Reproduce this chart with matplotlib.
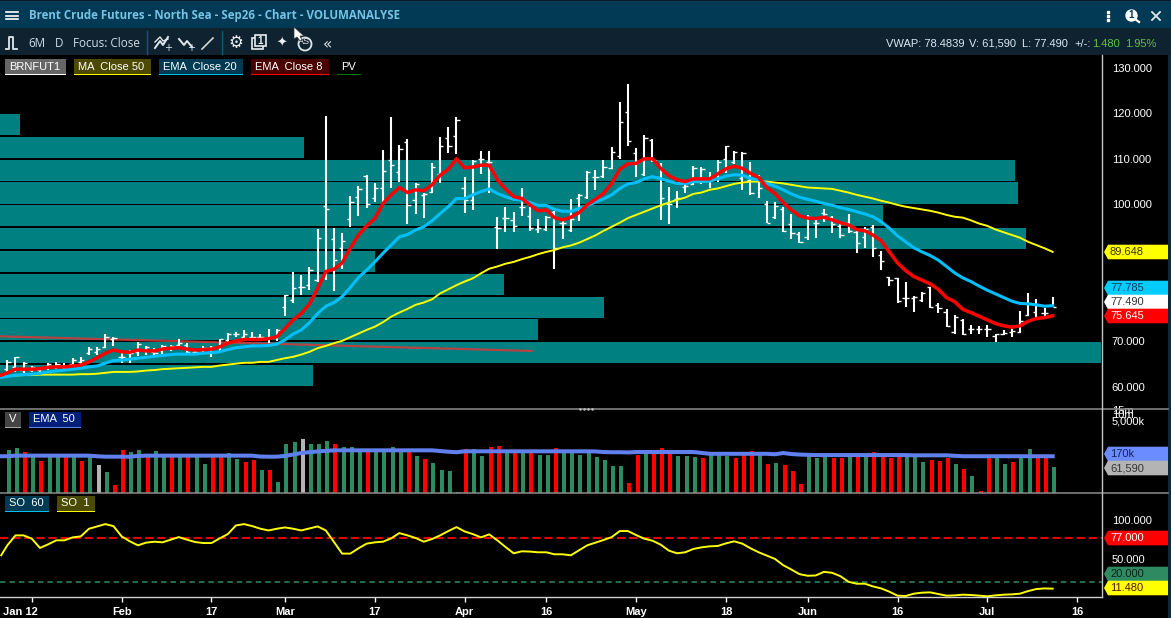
import matplotlib
matplotlib.use("Agg")
import matplotlib.pyplot as plt
from matplotlib.patches import Polygon, Rectangle, Circle
from matplotlib.transforms import ScaledTranslation

plt.rcParams['font.family'] = ['Liberation Sans', 'DejaVu Sans']

W, H = 1171, 618

# ---- price data
highs = [65.8,66.6,65.5,64.6,64.3,65.2,65.4,65.3,66.3,66.5,68.7,68.7,71.7,70.9,67.7,68.2,69.8,69.0,68.6,69.3,
         69.2,70.6,69.7,68.1,69.0,69.0,70.6,71.9,72.1,72.5,72.1,71.7,72.7,72.8,80.2,85.1,84.5,86.2,94.6,119.4,
         94.9,93.7,101.8,104.0,106.4,104.8,111.9,119.1,113.0,114.3,104.8,102.6,109.0,114.7,116.9,119.1,105.9,109.7,111.7,111.7,
         97.2,99.4,98.3,103.7,99.4,96.8,97.5,98.5,96.4,101.2,102.3,107.3,107.5,109.7,112.5,122.4,126.4,112.3,115.2,114.3,
         109.0,103.9,102.9,104.6,108.4,108.1,107.0,109.7,112.8,111.7,111.4,109.4,106.4,100.8,100.6,99.5,98.0,94.0,97.7,96.6,
         98.9,97.5,95.9,98.0,94.5,95.1,95.4,89.9,84.2,83.9,83.0,79.9,80.9,82.0,78.3,77.0,75.7,75.0,73.6,73.4,
         73.6,71.7,72.5,72.6,76.6,80.5,79.3,77.4,79.8]
lows = [63.0,63.3,63.1,63.3,63.3,63.7,63.9,63.9,64.6,64.8,67.0,67.0,68.5,69.0,65.3,65.2,66.8,66.9,67.0,67.0,
        67.9,68.7,67.0,67.0,67.4,66.6,67.9,69.9,70.9,70.6,70.4,70.3,69.6,70.1,75.6,78.3,80.2,81.2,82.9,83.4,
        81.1,85.9,95.1,97.5,99.3,100.6,100.1,103.7,105.0,95.7,97.9,97.1,102.6,104.8,111.3,111.0,98.2,98.8,106.7,102.6,
        90.2,94.0,94.0,97.5,94.2,93.8,94.2,85.9,92.5,94.0,96.4,101.1,103.2,105.7,107.7,110.0,112.9,106.1,106.2,109.4,
        96.6,95.7,99.2,102.4,104.2,104.5,103.7,105.0,106.8,108.9,103.2,102.1,101.3,95.9,96.7,94.0,92.5,91.5,92.2,92.7,
        96.2,93.8,92.6,93.7,89.4,90.4,88.4,85.6,82.2,78.3,77.6,76.5,78.7,77.2,76.3,73.1,71.7,71.4,71.7,71.7,
        70.9,69.9,71.4,70.9,71.9,75.5,75.4,75.5,77.6]
opens = [64.0,64.4,63.7,63.8,63.7,64.3,64.4,64.4,65.0,65.4,67.5,67.7,68.8,70.6,66.6,67.4,67.7,68.2,67.7,68.2,
         68.5,69.2,69.2,67.7,68.2,67.7,68.8,70.3,71.6,71.0,71.0,71.0,70.6,71.0,77.6,79.0,81.8,82.3,83.4,99.7,
         92.4,90.4,96.8,101.7,106.3,101.5,103.5,109.7,107.2,113.7,101.0,102.1,102.8,106.6,114.6,115.1,103.6,101.0,109.9,109.4,
         95.0,97.1,96.6,99.5,97.5,94.6,94.7,98.3,95.9,94.4,101.3,101.7,105.9,106.3,107.9,110.5,120.3,111.2,106.6,114.1,
         106.1,100.2,101.1,103.9,104.5,105.7,105.6,106.4,109.9,109.4,105.7,105.4,105.7,100.2,97.2,99.1,95.7,93.5,92.9,95.9,
         98.2,97.2,95.3,95.9,94.0,92.8,95.1,88.9,84.0,83.9,79.4,79.4,79.0,81.8,77.9,76.5,72.1,74.7,72.8,72.8,
         72.8,71.2,71.7,72.1,72.1,75.8,76.5,76.3,77.9]
closes = [65.5,66.5,65.3,64.3,64.0,65.0,65.1,64.3,66.0,66.0,68.4,68.4,70.9,70.8,66.6,67.4,69.4,68.8,67.4,69.0,
          69.0,69.6,67.7,67.7,68.5,68.8,70.4,71.7,71.7,71.7,71.0,71.0,71.0,72.5,80.2,81.6,81.8,85.6,92.7,99.1,
          87.8,92.0,100.6,103.3,100.2,103.5,107.4,108.6,112.1,99.9,104.5,102.3,108.1,112.7,112.8,118.4,101.0,109.5,109.9,109.4,
          94.9,97.1,95.3,99.5,94.9,94.8,97.3,90.4,95.9,96.9,102.1,107.2,106.1,108.3,111.4,118.1,113.9,109.4,114.5,109.7,
          101.3,100.0,101.5,104.0,108.0,107.7,105.7,109.4,112.7,111.5,111.2,102.4,103.5,96.0,99.7,94.2,93.8,91.8,97.2,96.0,
          97.9,95.6,93.3,94.2,91.6,94.7,90.4,87.5,83.4,78.9,79.4,79.8,80.5,77.6,77.4,73.4,75.4,71.7,72.8,72.8,
          72.8,71.6,71.9,72.3,74.5,78.3,78.0,76.1,77.5]

# the lines start a little left of the first whole bar, hence one extra leading value
ema8 = [62.6,63.1,63.9,63.9,63.9,64.0,64.3,64.4,64.4,64.6,64.8,65.5,66.4,67.4,68.1,67.7,67.6,68.1,67.9,67.9,68.3,
        68.5,68.6,68.3,68.1,68.2,68.3,68.8,69.6,70.1,70.4,70.4,70.4,70.6,71.0,72.8,74.7,76.1,78.2,81.6,85.3,
        85.8,87.2,90.4,93.3,95.3,96.9,100.2,102.1,103.7,102.6,103.2,103.0,104.3,106.4,107.7,110.0,108.0,108.2,108.6,108.6,
        105.4,103.4,101.7,101.3,99.9,98.6,98.8,97.1,96.6,97.2,98.2,99.9,101.1,102.4,104.6,107.7,108.9,109.0,110.0,110.0,
        107.9,106.3,105.4,105.0,105.6,105.6,105.6,106.7,107.8,108.4,107.9,106.8,105.9,103.7,102.4,100.4,98.8,97.5,97.0,96.9,
        97.2,96.6,96.0,95.5,94.5,94.2,93.3,92.0,89.6,87.2,85.5,84.2,83.4,82.6,81.4,79.6,78.7,77.0,76.3,75.5,
        74.7,73.9,73.4,73.1,73.4,74.4,75.0,75.2,75.6]
ema20 = [62.1,62.3,62.6,62.7,62.8,63.0,63.3,63.5,63.7,63.9,64.1,64.4,64.6,65.2,65.8,65.9,66.1,66.3,66.5,66.7,66.9,
         67.1,67.2,67.2,67.2,67.4,67.5,67.7,68.2,68.6,68.8,69.0,69.0,69.1,69.4,70.3,71.6,72.5,74.1,76.1,77.7,
         78.5,79.8,81.8,84.0,85.6,87.4,89.3,91.1,92.9,93.4,94.4,95.1,96.4,98.0,99.5,101.3,101.3,102.1,102.8,103.4,
         102.4,101.7,101.1,101.0,100.4,99.8,99.8,98.9,98.5,98.5,99.1,99.7,100.5,101.2,102.1,103.5,104.5,104.8,105.6,106.1,
         105.6,105.1,104.6,104.6,105.0,105.0,105.1,105.6,106.2,106.5,106.4,105.7,105.4,104.6,104.0,103.2,102.3,101.6,101.1,100.7,
         100.2,99.8,99.3,98.9,98.4,97.9,97.3,96.2,94.8,93.1,91.8,90.5,89.6,88.8,87.8,86.4,85.0,83.9,83.1,82.1,
         81.2,80.4,79.6,78.8,78.3,78.2,78.0,77.7,77.8]
ma50 = [62.3,62.4,62.5,62.6,62.6,62.7,62.7,62.7,62.7,62.7,62.8,62.8,62.9,63.1,63.3,63.3,63.3,63.4,63.6,63.7,63.9,
        64.0,64.1,64.2,64.3,64.4,64.4,64.7,64.9,65.1,65.3,65.3,65.5,65.5,65.9,66.3,66.6,67.1,67.7,68.5,69.0,
        69.6,70.1,70.9,71.7,72.5,73.2,74.2,75.4,76.3,77.1,78.0,78.5,79.2,80.5,81.4,82.3,83.1,83.8,84.9,85.9,
        86.4,87.0,87.4,88.0,88.5,89.1,89.6,90.0,90.6,91.0,91.6,92.4,93.2,94.2,95.1,96.0,97.0,97.7,98.4,99.1,
        99.8,100.4,101.0,101.5,102.3,102.6,103.2,103.5,104.0,104.5,104.8,105.0,105.0,105.0,104.8,104.6,104.3,104.0,103.7,103.6,
        103.5,103.4,103.0,102.6,102.1,101.7,101.3,100.8,100.4,99.9,99.5,99.2,98.9,98.6,98.2,97.7,97.3,97.1,96.5,95.8,
        95.3,94.5,93.9,93.3,92.7,91.8,91.1,90.4,89.6]

# price-volume profile: bin centre and share of the biggest bin
pv_centres = [62.5,67.5,72.5,77.5,82.5,87.5,92.5,97.5,102.5,107.5,112.5,117.5]
pv_share = [28.4,100.0,48.9,54.9,45.8,34.1,93.2,80.2,92.5,92.2,27.6,1.8]
pv_trend_bars = [-0.9,64.2]
pv_trend_vals = [71.1,67.9]

# ---- volume in thousands, g up / r down / s flat
volume = [310,375,255,191,108,191,191,191,191,108,191,73,37,11,310,255,310,191,281,191,
          191,191,191,191,81,191,191,232,130,97,119,45,45,14,550,667,889,550,550,735,
          550,413,413,310,310,310,310,413,310,310,174,130,89,45,41,5.5,341,341,174,413,
          455,255,255,255,255,191,191,375,255,255,191,255,158,119,66,66,13,191,232,232,
          375,310,174,174,158,143,191,191,174,143,191,281,191,81,89,73,41,12,174,143,
          174,143,143,174,174,174,255,174,143,174,174,174,97,119,108,143,81,50,26,6,
          143,143,81,97,143,341,143,143,61.59]
vol_colors = ['g','g','r','g','r','g','g','r','g','r','g','s','g','r','r','g','g','r','g','g',
              'r','g','r','g','g','r','r','g','g','r','r','g','r','g','g','g','s','g','g','g',
              'r','g','g','g','r','g','g','g','g','r','g','r','g','g','g','g','r','g','g','r',
              'r','g','r','g','r','g','g','r','g','g','g','g','g','g','g','g','r','r','g','r',
              'r','r','g','g','g','r','g','g','g','r','r','r','g','r','g','r','r','r','g','g',
              'g','r','r','g','r','g','r','r','r','r','g','g','g','r','r','r','g','r','g','r',
              'r','g','g','r','g','g','r','r','g']
vol_ema = [170,170,180,180,180,180,180,180,180,180,180,180,170,163,163,163,163,175,180,180,180,
           180,180,180,180,180,180,180,180,180,180,180,165,163,163,175,200,232,250,270,285,
           300,300,300,300,300,300,300,300,300,300,300,300,300,280,262,250,273,273,273,273,
           273,273,273,273,273,273,273,273,273,273,273,273,270,255,250,250,245,255,255,255,
           255,255,255,255,255,235,215,215,215,215,215,215,215,215,205,232,210,200,195,190,
           190,190,190,190,190,190,190,190,190,190,190,186,186,186,186,186,178,170,170,170,
           170,170,170,170,170,170,170,170,170]

# ---- stochastic
so1 = [54.7,67.6,80.5,80.5,76.2,64.2,68.9,74.1,74.1,77.9,79.2,89.1,92.1,95.1,92.5,79.2,72.8,67.6,71.1,72.3,71.5,
       74.9,78.3,74.9,71.9,70.6,70.6,76.6,82.2,93.4,95.1,92.5,89.1,86.9,89.1,90.8,89.1,86.9,89.5,92.1,86.9,
       71.9,56.9,56.9,63.8,69.8,71.5,72.3,76.6,83.5,80.5,77.1,72.3,75.8,80.5,86.1,91.2,85.6,82.2,77.9,81.8,
       74.1,65.5,57.3,59.9,59.5,58.6,58.6,56.0,56.0,54.7,61.2,67.6,71.1,74.5,78.3,86.1,86.1,80.9,76.2,73.6,
       68.5,60.8,57.3,58.6,62.9,65.0,66.3,66.8,70.2,72.8,69.8,63.8,58.6,54.3,50.0,41.9,36.3,30.3,28.2,28.6,
       33.3,32.0,27.7,20.4,17.9,17.9,14.4,11.8,7.6,2.4,2.0,5.0,6.3,6.7,4.6,2.4,2.8,3.7,3.3,2.4,
       1.6,2.8,3.7,4.1,5.0,8.4,11.0,11.8,11.5]
so_upper = 77
so_lower = 20

time_ticks = [3,14,25,34,45,56,66,77,88,98,109,120,131]
time_labels = ['Jan 12','Feb','17','Mar','17','Apr','16','May','18','Jun','16','Jul','16']
price_ticks = [60,70,100,110,120,130]
price_labels = ['60.000','70.000','100.000','110.000','120.000','130.000']

# right hand value tags: text, centre row, fill, text colour
tags = [('89.648',252,'#ffff00','#3a3000'),
        ('77.785',288,'#00ccff','#0b3a55'),
        ('77.490',302,'#ffffff','#333333'),
        ('75.645',316,'#ff0000','#ffffff'),
        ('170k',454,'#6a8cff','#10205a'),
        ('61,590',468,'#b4b4b4','#333333'),
        ('77.000',538,'#ff0000','#ffffff'),
        ('20.000',574,'#2e8b61','#06261a'),
        ('11.480',588,'#ffff00','#5a1000')]

# legend chips: text, left, right, top, fill, underline
chips = [('BRNFUT1',5,66,59,'#666666','#ffffff'),
         ('MA  Close 50',74,151,59,'#4d4a00','#ffff00'),
         ('EMA  Close 20',159,243,59,'#003a52','#00bfef'),
         ('EMA  Close 8',251,329,59,'#4a0000','#ff0000'),
         ('PV',337,361,59,'#000000','#007a00'),
         ('V',5,21,412,'#444444','#aaaaaa'),
         ('EMA  50',29,81,412,'#00207a','#5f7fe8'),
         ('SO  60',5,49,496,'#003a52','#00bfef'),
         ('SO  1',57,95,496,'#4a4a00','#ffff00')]

BAR_X0, BAR_DX = 7.3, 8.167
XMIN = (0 - BAR_X0) / BAR_DX
XMAX = (1102 - BAR_X0) / BAR_DX
bars = list(range(len(closes)))
line_bars = [-0.75] + bars

fig = plt.figure(figsize=(W / 100, H / 100), dpi=100, facecolor='black')


def pane(top, bottom):
    ax = fig.add_axes([0, 1 - bottom / H, 1102 / W, (bottom - top) / H], facecolor='black')
    ax.set_xlim(XMIN, XMAX)
    for s in ax.spines.values():
        s.set_visible(False)
    ax.tick_params(axis='y', left=False, right=False, labelleft=False, labelright=True,
                   pad=3.6, labelsize=8, labelcolor='white')
    ax.tick_params(axis='x', bottom=False, labelbottom=False)
    return ax


# main price pane
ax = pane(55, 408.5)
ax.set_ylim(55.28, 132.74)
ax.set_yticks(price_ticks)
ax.set_yticklabels(price_labels)
ax.barh(pv_centres, [p / 100 * (XMAX - XMIN) * 1101 / 1102 for p in pv_share], height=4.62, left=XMIN,
        color='#008080', zorder=1)
ax.plot(pv_trend_bars, pv_trend_vals, color='#d83838', lw=1.6, alpha=0.85, zorder=2)
ax.vlines(bars, lows, highs, color='white', lw=1.5, zorder=3)
ax.hlines(opens, [b - 0.4 for b in bars], bars, color='white', lw=1.0, zorder=3)
ax.hlines(closes, bars, [b + 0.4 for b in bars], color='white', lw=1.0, zorder=3)
ax.plot(line_bars, ma50, color='#ffff00', lw=1.4, zorder=4)
ax.plot(line_bars, ema20, color='#00bfff', lw=2.2, zorder=5)
ax.plot(line_bars, ema8, color='#ff0000', lw=2.5, zorder=6)

# volume pane, log scale
axv = pane(409, 493)
axv.set_yscale('log')
axv.set_ylim(5, 15811)
axv.set_yticks([5000, 10000, 15000])
axv.set_yticklabels(['5,000k', '10m', '15m'])
axv.minorticks_off()
colour_map = {'g': '#2e8b61', 'r': '#ff0000', 's': '#b4b4b4'}
axv.bar([b + 0.18 for b in bars], [v - 5 for v in volume], width=0.49, bottom=5,
        color=[colour_map[c] for c in vol_colors], zorder=2)
axv.plot(line_bars, vol_ema, color='#6080ee', lw=2.9, zorder=3)

# stochastic pane
axs = pane(494, 597)
axs.set_ylim(0.7, 134.1)
axs.set_yticks([50, 100])
axs.set_yticklabels(['50.000', '100.000'])
axs.axhline(so_upper, color='#ff0000', lw=1.3, dashes=(4.5, 2.2), zorder=2)
axs.axhline(so_lower, color='#2e8b61', lw=1.1, dashes=(3.6, 2.6), zorder=2)
axs.plot(line_bars, so1, color='#ffff00', lw=1.4, zorder=3)
axs.set_xticks(time_ticks)
axs.set_xticklabels(time_labels, fontsize=8, fontweight='bold', color='white')
axs.tick_params(axis='x', bottom=True, labelbottom=True, length=3.5, width=1, color='white', pad=4)
first = axs.get_xticklabels()[0]
first.set_transform(first.get_transform() + ScaledTranslation(-0.117, 0, fig.dpi_scale_trans))

# overlay in pixel rows and columns: window chrome, chips, tags
ov = fig.add_axes([0, 0, 1, 1], facecolor='none')
ov.set_xlim(0, W)
ov.set_ylim(H, 0)
ov.axis('off')
ov.add_patch(Rectangle((0, 0), W, 28, color='#023a55', lw=0))
ov.add_patch(Rectangle((0, 0), W, 1, color='#0c1c26', lw=0))
ov.add_patch(Rectangle((0, 28), W, 27, color='#0e2230', lw=0))
ov.add_patch(Rectangle((1168, 55), 3, H - 55, color='#0e2a3a', lw=0))
for y in (12, 15.5, 19):
    ov.plot([6, 18], [y, y], color='white', lw=1.2)
ov.text(29, 15.5, 'Brent Crude Futures - North Sea - Sep26 - Chart - VOLUMANALYSE', color='#74c3e4',
        fontsize=8.3, fontweight='bold', family=['Open Sans', 'DejaVu Sans'], va='center')
ov.text(28, 43.5, '6M', color='#cfdde5', fontsize=8.4, family=['Open Sans', 'DejaVu Sans'], va='center')
ov.text(55, 43.5, 'D', color='#cfdde5', fontsize=8.4, family=['Open Sans', 'DejaVu Sans'], va='center')
ov.text(73, 43.5, 'Focus: Close', color='#cfdde5', fontsize=8.4, family=['Open Sans', 'DejaVu Sans'], va='center')
for x in (146.5, 221.5):
    ov.plot([x, x], [31, 54], color='#0a5a7a', lw=1)

# toolbar icons
ov.plot([6, 9, 9, 13, 13, 17], [49, 49, 37, 37, 49, 49], color='#e0e8ee', lw=1.3)
ov.plot([155, 160, 163, 168], [48, 41, 45, 37], color='#e0e8ee', lw=1.4)
ov.plot([155, 160, 163, 168], [42, 37, 41, 39], color='#e0e8ee', lw=1.0)
ov.text(168, 48, '+', color='#e0e8ee', fontsize=7, va='center', ha='center', family='DejaVu Sans')
ov.plot([179, 184, 187, 192], [39, 45, 41, 47], color='#e0e8ee', lw=1.4)
ov.text(191, 48, '+', color='#e0e8ee', fontsize=7, va='center', ha='center', family='DejaVu Sans')
ov.plot([202, 213], [49, 38], color='#d0d8de', lw=1.2)
ov.text(236, 43, '\u2699', color='#e8eef2', fontsize=12, va='center', ha='center', family='DejaVu Sans')
ov.add_patch(Rectangle((252, 38), 11, 11, fill=False, ec='#e8eef2', lw=1.2))
ov.add_patch(Rectangle((255, 35), 11, 11, fc='#0e2230', ec='#e8eef2', lw=1.2))
ov.text(260.5, 40.5, '1', color='#e8eef2', fontsize=7, fontweight='bold', va='center', ha='center')
ov.text(282, 43, '\u2726', color='#f0f4f6', fontsize=9, va='center', ha='center', family='DejaVu Sans')
ov.add_patch(Circle((305, 44), 6.5, fill=False, ec='#e0e8ee', lw=1.3))
ov.text(304, 42, 'AS', color='#e0e8ee', fontsize=6.5, va='center', ha='center')
ov.text(327, 45, '\u00ab', color='#d6e0e6', fontsize=11, va='center', ha='center', family='DejaVu Sans')
ov.add_patch(Polygon([(294, 27), (294, 39), (297, 37), (300, 41), (302, 40), (300, 36), (304, 36)],
                     fc='white', ec='#333333', lw=0.5, zorder=9))

# window icons, top right
for y in (11.5, 15.5, 19.5):
    ov.plot([1108], [y], 's', color='white', ms=1.8)
ov.add_patch(Circle((1131.5, 15.5), 5.5, fc='white', ec='white', lw=1))
ov.text(1131.5, 15.5, '1', color='#023a55', fontsize=7, fontweight='bold', va='center', ha='center')
ov.plot([1135, 1139], [19, 22], color='white', lw=1.6)
ov.plot([1152, 1160], [12, 20], color='#e0e8ee', lw=1.3)
ov.plot([1152, 1160], [20, 12], color='#e0e8ee', lw=1.3)

# readout, top right
for x, txt, col in [(886, 'VWAP: 78.4839', '#dce8f0'), (969, 'V: 61,590', '#dce8f0'), (1022.5, 'L: 77.490', '#dce8f0'),
                    (1074, '+/-:', '#dce8f0'), (1092.5, '1.480', '#5fc040'), (1125.5, '1.95%', '#5fc040')]:
    ov.text(x, 43, txt, color=col, fontsize=8, va='center_baseline')

# separators
ov.plot([0, W - 3], [409, 409], color='#8c8c8c', lw=1.1)
ov.plot([0, W - 3], [493, 493], color='#8c8c8c', lw=1.1)
ov.plot([0, 1102], [597, 597], color='#cfcfcf', lw=1.0)
ov.plot([1102, 1102], [55, 597], color='#c4c4c4', lw=1.0)
ov.plot([580, 584, 588, 592], [409, 409, 409, 409], ls='none', marker='.', ms=1.5, color='#c8c8c8')

for txt, x0, x1, top, fill, under in chips:
    ov.add_patch(Rectangle((x0, top), x1 - x0, 14.5, color=fill, lw=0))
    ov.add_patch(Rectangle((x0, top + 14.5), x1 - x0, 1.5, color=under, lw=0))
    ov.text(x0 + 4 if txt != 'V' else (x0 + x1) / 2, top + 7.5, txt, color='white', fontsize=8, va='center',
            ha='left' if txt != 'V' else 'center')

for txt, y, fill, col in tags:
    ov.add_patch(Polygon([(1104, y), (1108, y - 7.3), (1168, y - 7.3), (1168, y + 7.3), (1108, y + 7.3)],
                         color=fill, lw=0))
    ov.text(1110, y + 0.3, txt, color=col, fontsize=8, va='center')

fig.savefig('out.png', dpi=100, facecolor='black')
